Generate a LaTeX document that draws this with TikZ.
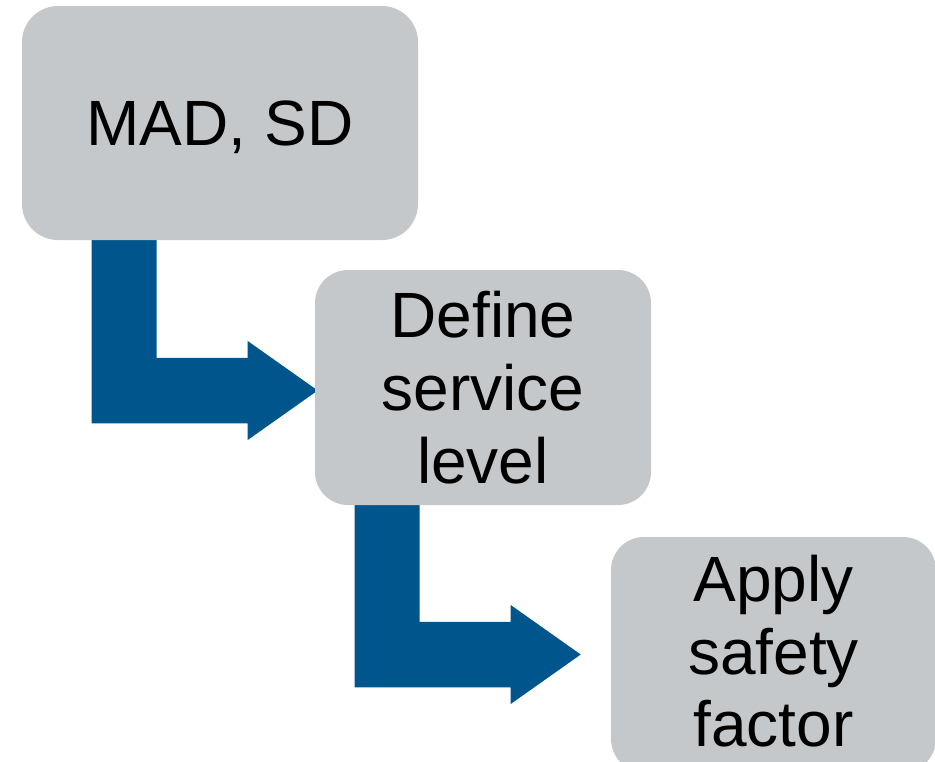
\documentclass[tikz,border=0pt]{standalone}
\usepackage{fontspec}
\setmainfont{Liberation Sans}
\usetikzlibrary{calc,backgrounds}

\definecolor{boxgrey}{RGB}{197,200,203}
\definecolor{flowblue}{RGB}{0,86,140}

\tikzset{
  stepbox/.style={rectangle, rounded corners=36pt, fill=boxgrey, draw=none,
    inner sep=0pt, align=center, text=black},
  flow/.style={fill=flowblue, draw=none},
}

% bent block arrow: vertical bar hanging from #1.south, turning right to the tip #2
\newcommand\bentflow[2]{%
  \fill[flow] let \p1=(#1.south), \p2=(#2) in
    (\x2-226pt,\y1) -- (\x2-161pt,\y1) -- (\x2-161pt,\y2+32.75pt)
    -- (\x2-70pt,\y2+32.75pt) -- (\x2-70pt,\y2+49.5pt) -- (\x2,\y2)
    -- (\x2-70pt,\y2-49.5pt) -- (\x2-70pt,\y2-32.75pt)
    -- (\x2-226pt,\y2-32.75pt) -- cycle;}

\begin{document}
\begin{tikzpicture}[x=1pt,y=-1pt]
  \path[use as bounding box, clip] (0,0) rectangle (935,761);

  \node[stepbox, minimum width=396pt, minimum height=234pt, text depth=0pt,
        font=\fontsize{64}{73}\selectfont] (b1) at (220,123) {MAD, SD};
  \node[stepbox, rounded corners=33pt, minimum width=336pt, minimum height=235pt,
        font=\fontsize{64}{73}\selectfont] (b2) at (483,387.5)
        {Define\\service\\level};
  \node[stepbox, rounded corners=33pt, minimum width=325pt, minimum height=235pt,
        text depth=7pt, font=\fontsize{64}{72.5}\selectfont] (b3) at (773.5,654.5)
        {Apply\\safety\\factor};

  \coordinate (t1) at (317.7,390.5);
  \coordinate (t2) at (580.7,654.5);

  \begin{scope}[on background layer]
    \bentflow{b1}{t1}
    \bentflow{b2}{t2}
  \end{scope}
\end{tikzpicture}
\end{document}
